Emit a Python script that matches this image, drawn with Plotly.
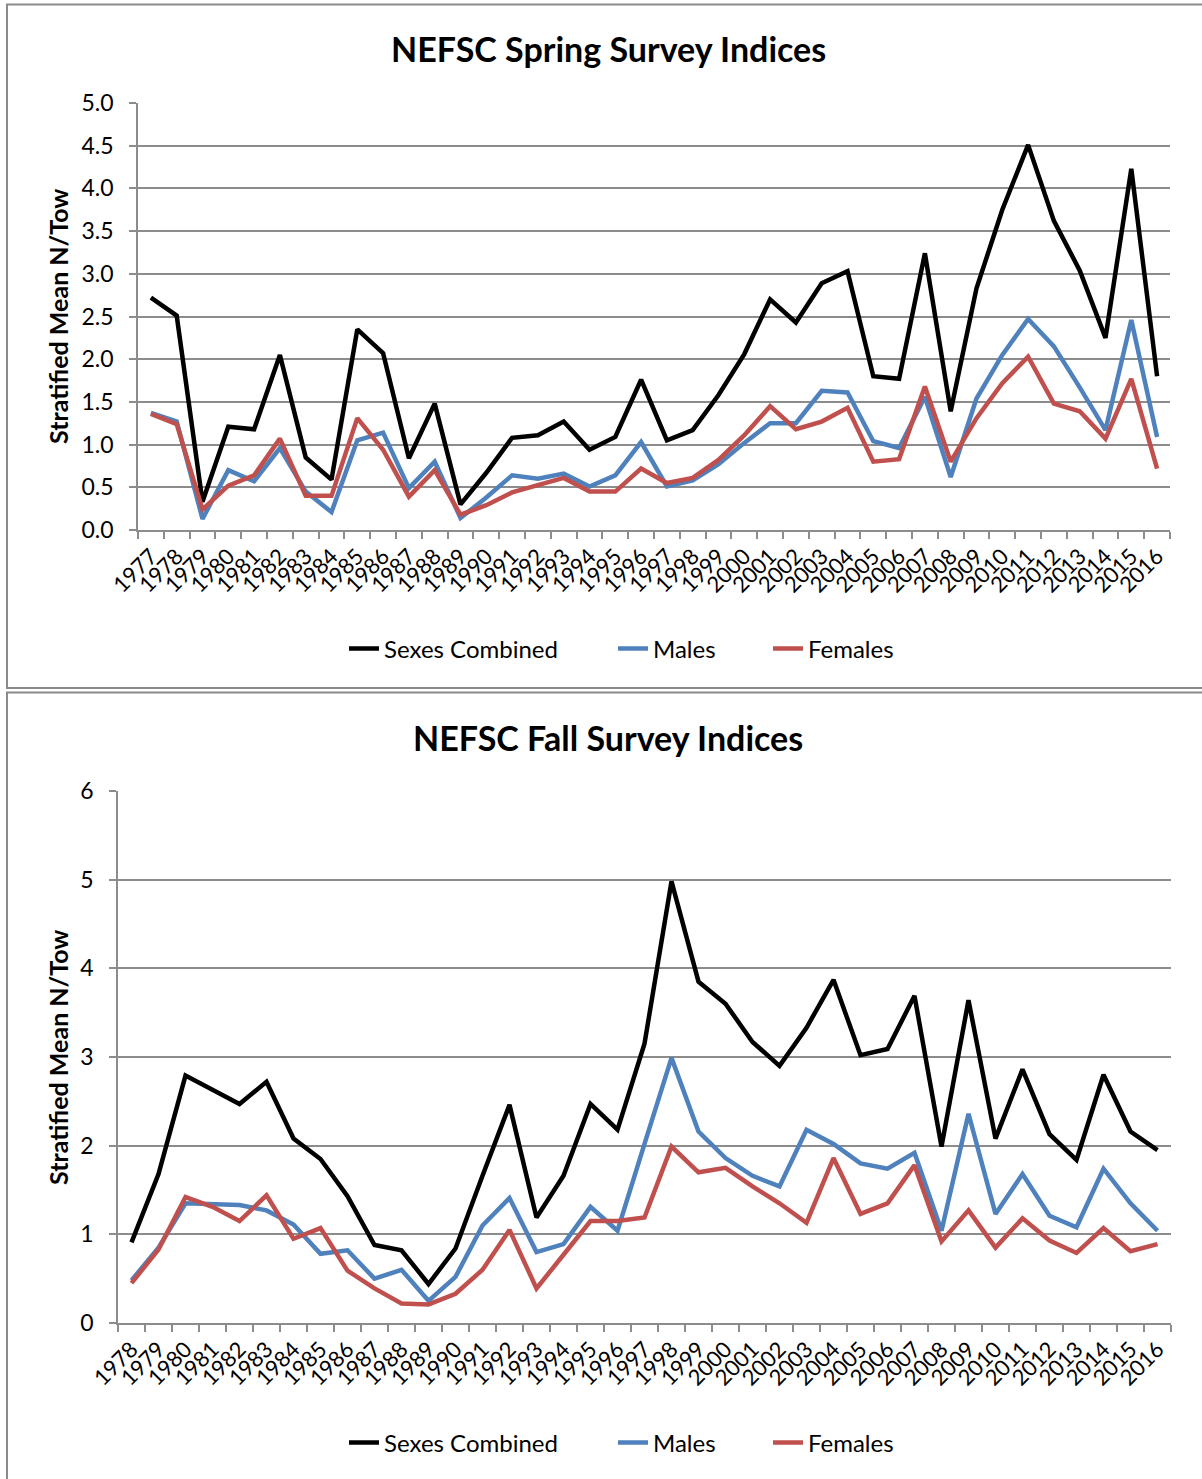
import plotly.graph_objects as go

W, H = 1202, 1479

spring_years = [str(y) for y in range(1977, 2017)]
spring_combined = [2.72, 2.51, 0.33, 1.21, 1.18, 2.05, 0.85, 0.59, 2.35, 2.07,
                   0.84, 1.48, 0.30, 0.67, 1.08, 1.11, 1.27, 0.94, 1.09, 1.76,
                   1.05, 1.17, 1.58, 2.06, 2.70, 2.43, 2.89, 3.03, 1.80, 1.77,
                   3.24, 1.39, 2.83, 3.75, 4.51, 3.62, 3.04, 2.25, 4.23, 1.80]
spring_males = [1.37, 1.27, 0.13, 0.70, 0.57, 0.96, 0.45, 0.21, 1.05, 1.14,
                0.49, 0.80, 0.14, 0.38, 0.64, 0.60, 0.66, 0.51, 0.64, 1.03,
                0.51, 0.58, 0.77, 1.02, 1.25, 1.25, 1.63, 1.61, 1.04, 0.96,
                1.56, 0.62, 1.54, 2.05, 2.47, 2.15, 1.67, 1.17, 2.46, 1.09]
spring_females = [1.36, 1.24, 0.24, 0.52, 0.64, 1.07, 0.40, 0.40, 1.31, 0.94,
                  0.39, 0.70, 0.18, 0.29, 0.44, 0.53, 0.61, 0.45, 0.45, 0.72,
                  0.55, 0.61, 0.82, 1.11, 1.45, 1.18, 1.27, 1.43, 0.80, 0.83,
                  1.68, 0.80, 1.31, 1.72, 2.03, 1.48, 1.39, 1.07, 1.77, 0.72]

fall_years = [str(y) for y in range(1978, 2017)]
fall_combined = [0.91, 1.68, 2.79, 2.63, 2.47, 2.72, 2.08, 1.85, 1.43, 0.88,
                 0.82, 0.44, 0.84, 1.66, 2.46, 1.19, 1.66, 2.47, 2.18, 3.15,
                 4.98, 3.85, 3.60, 3.17, 2.90, 3.33, 3.87, 3.02, 3.09, 3.69,
                 1.99, 3.64, 2.08, 2.86, 2.13, 1.84, 2.80, 2.16, 1.95]
fall_males = [0.48, 0.85, 1.35, 1.34, 1.33, 1.27, 1.11, 0.78, 0.82, 0.50,
              0.60, 0.25, 0.52, 1.10, 1.41, 0.80, 0.89, 1.31, 1.04, 2.02,
              2.99, 2.16, 1.86, 1.66, 1.54, 2.18, 2.02, 1.80, 1.74, 1.92,
              1.04, 2.36, 1.23, 1.68, 1.21, 1.08, 1.74, 1.35, 1.04]
fall_females = [0.45, 0.83, 1.42, 1.31, 1.15, 1.44, 0.95, 1.07, 0.59, 0.39,
                0.22, 0.21, 0.33, 0.60, 1.05, 0.39, 0.77, 1.15, 1.15, 1.19,
                1.99, 1.70, 1.75, 1.54, 1.35, 1.13, 1.86, 1.23, 1.35, 1.78,
                0.92, 1.27, 0.85, 1.18, 0.93, 0.79, 1.07, 0.81, 0.89]

series_names = ["Sexes Combined", "Males", "Females"]
colors = ["#000000", "#4F81BD", "#C0504D"]
FONT = "Lato"
GRID = "#8C8C8C"


def px_x(v):
    return v / W


def px_y(v):
    return 1 - v / H


fig = go.Figure()

legend_ids_spring = ["legend", "legend2", "legend3"]
legend_ids_fall = ["legend4", "legend5", "legend6"]

for i, (name, vals) in enumerate(zip(series_names, [spring_combined, spring_males, spring_females])):
    fig.add_trace(go.Scatter(x=spring_years, y=vals, mode="lines", name=name,
                             line=dict(color=colors[i], width=4.5),
                             xaxis="x", yaxis="y", legend=legend_ids_spring[i]))
for i, (name, vals) in enumerate(zip(series_names, [fall_combined, fall_males, fall_females])):
    fig.add_trace(go.Scatter(x=fall_years, y=vals, mode="lines", name=name,
                             line=dict(color=colors[i], width=4.5),
                             xaxis="x2", yaxis="y2", legend=legend_ids_fall[i]))

xcommon = dict(type="category", showgrid=False, showline=True, linecolor=GRID, linewidth=1.5,
               ticks="outside", tickson="boundaries", ticklen=7, tickcolor=GRID, tickwidth=1.5,
               tickangle=-45, tickfont=dict(family=FONT, size=22, color="#000"),
               tickmode="linear", tick0=0, dtick=1,
               automargin=False, ticklabelstandoff=3)
ycommon = dict(showgrid=True, gridcolor=GRID, gridwidth=1.5, showline=True, linecolor=GRID,
               linewidth=1.5, ticks="outside", ticklen=7, tickcolor=GRID, tickwidth=1.5,
               tickfont=dict(family=FONT, size=23, color="#000"), zeroline=False,
               automargin=False, ticklabelstandoff=11)

legend_common = dict(orientation="h", xanchor="left", yanchor="middle",
                     font=dict(family=FONT, size=24, color="#000"), itemwidth=30,
                     bgcolor="rgba(0,0,0,0)")

# left x of each legend entry text in the reference (px)
legend_text_x = [384, 653, 808]

layout_legends = {}
for lid, tx in zip(legend_ids_spring, legend_text_x):
    layout_legends[lid] = dict(legend_common, x=px_x(tx - 40), y=px_y(649))
for lid, tx in zip(legend_ids_fall, legend_text_x):
    layout_legends[lid] = dict(legend_common, x=px_x(tx - 40), y=px_y(1443))

fig.update_layout(
    width=W, height=H, margin=dict(l=0, r=0, t=0, b=0, autoexpand=False),
    paper_bgcolor="white", plot_bgcolor="white",
    xaxis=dict(xcommon, domain=[px_x(138), px_x(1170)], range=[-0.5, len(spring_years) - 0.5],
               anchor="y"),
    yaxis=dict(ycommon, domain=[px_y(530), px_y(103)], range=[0, 5], dtick=0.5,
               tickformat=".1f", anchor="x"),
    xaxis2=dict(xcommon, domain=[px_x(118), px_x(1171)], range=[-0.5, len(fall_years) - 0.5],
                anchor="y2"),
    yaxis2=dict(ycommon, domain=[px_y(1323), px_y(791)], range=[0, 6], dtick=1, anchor="x2"),
    showlegend=True,
    **layout_legends,
)

annotations = [
    dict(text="<b>NEFSC Spring Survey Indices</b>", x=px_x(608), y=px_y(48)),
    dict(text="<b>NEFSC Fall Survey Indices</b>", x=px_x(608), y=px_y(737)),
]
for a in annotations:
    fig.add_annotation(xref="paper", yref="paper", xanchor="center", yanchor="middle",
                       showarrow=False, font=dict(family=FONT, size=34, color="#000"), **a)
for yc in (317, 1058):
    fig.add_annotation(xref="paper", yref="paper", x=px_x(58), y=px_y(yc), xanchor="center",
                       yanchor="middle", showarrow=False, textangle=-90,
                       text="<b>Stratified Mean N/Tow</b>",
                       font=dict(family=FONT, size=25, color="#000"))

border = dict(color="#8A8A8A", width=2)
fig.add_shape(type="rect", xref="paper", yref="paper", x0=px_x(7), x1=1.02, y0=px_y(688),
              y1=px_y(4.5), line=border, layer="below")
fig.add_shape(type="rect", xref="paper", yref="paper", x0=px_x(7), x1=1.02, y0=-0.02,
              y1=px_y(692.5), line=border, layer="below")

fig.write_html("out.html", config={"displayModeBar": False},
               post_script="document.body.style.margin='0';document.body.style.overflow='hidden';")
